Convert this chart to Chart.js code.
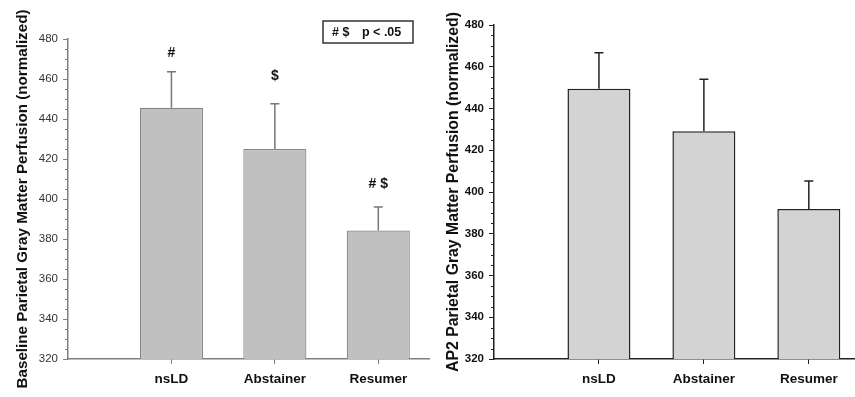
<!DOCTYPE html>
<html>
<head>
<meta charset="utf-8">
<script src="https://cdn.jsdelivr.net/npm/chart.js@4"></script>
<style>
  html, body { margin: 0; padding: 0; background: #fff; }
  #wrap { position: relative; width: 855px; height: 397px; overflow: hidden; }
  .panel { position: absolute; top: 0; height: 397px; }
  #left { left: 0; width: 430px; }
  #right { left: 430px; width: 425px; }
</style>
</head>
<body>
<div id="wrap">
  <div class="panel" id="left"><canvas id="baseChart"></canvas></div>
  <div class="panel" id="right"><canvas id="ap2Chart"></canvas></div>
</div>
<script>
// 数据
const categories = ['nsLD', 'Abstainer', 'Resumer'];
const baselineMeans = [445.6, 425.0, 384.2];
const baselineErr = [18.0, 22.6, 11.8];
const ap2Means = [449.5, 429.1, 391.9];
const ap2Err = [17.2, 24.9, 13.4];
const sigLabels = ['#', '$', '# $'];
const sigLabelY = [473, 461.5, 407.5];
const yMin = 320, yMax = 480, yStep = 20, yMinorStep = 5;

const FONT = "'Liberation Sans', Arial, sans-serif";

// 误差线 + 次刻度 + 标注
const extrasPlugin = {
    id: 'extras',
    afterDatasetsDraw(chart, args, opts) {
        const ctx = chart.ctx;
        const x = chart.scales.x, y = chart.scales.y;
        const area = chart.chartArea;
        ctx.save();
        // 次刻度
        ctx.strokeStyle = opts.axisColor;
        ctx.lineWidth = 1;
        for (let v = yMin; v <= yMax; v += yMinorStep) {
            if ((v - yMin) % yStep === 0) continue;
            const py = Math.round(y.getPixelForValue(v)) + 0.5;
            ctx.beginPath();
            ctx.moveTo(area.left - 3, py);
            ctx.lineTo(area.left, py);
            ctx.stroke();
        }
        // 误差线
        ctx.strokeStyle = opts.errColor;
        ctx.lineWidth = 1.5;
        opts.means.forEach((m, i) => {
            const px = x.getPixelForValue(i + 1);
            const y0 = y.getPixelForValue(m);
            const y1 = y.getPixelForValue(m + opts.err[i]);
            ctx.beginPath();
            ctx.moveTo(px, y0);
            ctx.lineTo(px, y1);
            ctx.moveTo(px - 4.5, y1);
            ctx.lineTo(px + 4.5, y1);
            ctx.stroke();
        });
        // 显著性标注
        if (opts.sig) {
            ctx.fillStyle = '#111';
            ctx.font = 'bold 14px ' + FONT;
            ctx.textAlign = 'center';
            ctx.textBaseline = 'middle';
            opts.sig.forEach((s, i) => {
                ctx.fillText(s, x.getPixelForValue(i + 1), y.getPixelForValue(sigLabelY[i]));
            });
            // 图例框
            ctx.strokeStyle = '#333';
            ctx.lineWidth = 1.5;
            ctx.fillStyle = '#fff';
            ctx.fillRect(323, 21, 90, 22);
            ctx.strokeRect(323, 21, 90, 22);
            ctx.fillStyle = '#111';
            ctx.font = 'bold 12.5px ' + FONT;
            ctx.textAlign = 'left';
            ctx.fillText('# $', 332, 33);
            ctx.fillText('p < .05', 362, 33);
        }
        ctx.restore();
    }
};

function makeChart(id, cfg) {
    const ctx = document.getElementById(id).getContext('2d');
    return new Chart(ctx, {
        type: 'bar',
        data: {
            datasets: [{
                data: cfg.means.map((m, i) => ({ x: i + 1, y: m })),
                backgroundColor: cfg.fill,
                borderColor: cfg.border,
                borderWidth: cfg.borderWidth,
                borderSkipped: false,
                barPercentage: cfg.barPct,
                categoryPercentage: 1
            }]
        },
        options: {
            responsive: true,
            maintainAspectRatio: false,
            animation: false,
            layout: { padding: { top: cfg.top, left: 0, right: 0, bottom: 0 } },
            plugins: {
                legend: { display: false },
                tooltip: { enabled: false },
                extras: {
                    means: cfg.means,
                    err: cfg.err,
                    errColor: cfg.errColor,
                    axisColor: cfg.axisColor,
                    sig: cfg.sig
                }
            },
            scales: {
                x: {
                    type: 'linear',
                    min: 0,
                    max: cfg.xMax,
                    offset: false,
                    afterBuildTicks: s => { s.ticks = categories.map((c, i) => ({ value: i + 1 })); },
                    afterFit: s => { s.height = 38; },
                    border: { color: cfg.axisColor, width: 1.5 },
                    grid: { offset: false, drawOnChartArea: false, tickLength: 5, color: cfg.axisColor },
                    ticks: {
                        padding: 7,
                        color: '#111',
                        font: { family: FONT, size: 13.5, weight: 'bold' },
                        callback: v => categories[v - 1] || ''
                    }
                },
                y: {
                    min: yMin,
                    max: yMax,
                    afterFit: s => { s.width = cfg.yWidth; },
                    border: { color: cfg.axisColor, width: 1.5 },
                    grid: { drawOnChartArea: false, tickLength: 5, color: cfg.axisColor },
                    ticks: {
                        stepSize: yStep,
                        padding: 5,
                        color: cfg.tickColor,
                        font: { family: FONT, size: 11.5, weight: cfg.tickWeight }
                    },
                    title: {
                        display: true,
                        text: cfg.title,
                        color: '#111',
                        padding: { top: 14, bottom: 0 },
                        font: { family: FONT, size: cfg.titleSize, weight: 'bold' }
                    }
                }
            }
        },
        plugins: [extrasPlugin]
    });
}

makeChart('baseChart', {
    means: baselineMeans,
    err: baselineErr,
    sig: sigLabels,
    title: 'Baseline Parietal Gray Matter Perfusion (normalized)',
    titleSize: 15.2,
    fill: '#c0c0c0',
    border: '#858585',
    borderWidth: 1.2,
    errColor: '#777',
    axisColor: '#808080',
    tickColor: '#333',
    tickWeight: 'normal',
    barPct: 0.61,
    top: 39,
    yWidth: 68,
    xMax: 3.5
});

makeChart('ap2Chart', {
    means: ap2Means,
    err: ap2Err,
    sig: null,
    title: 'AP2 Parietal Gray Matter Perfusion (normalized)',
    titleSize: 15.8,
    fill: '#d3d3d3',
    border: '#222',
    borderWidth: 1.5,
    errColor: '#222',
    axisColor: '#222',
    tickColor: '#111',
    tickWeight: 'bold',
    barPct: 0.6,
    top: 25,
    yWidth: 64,
    xMax: 3.44
});
</script>
</body>
</html>
